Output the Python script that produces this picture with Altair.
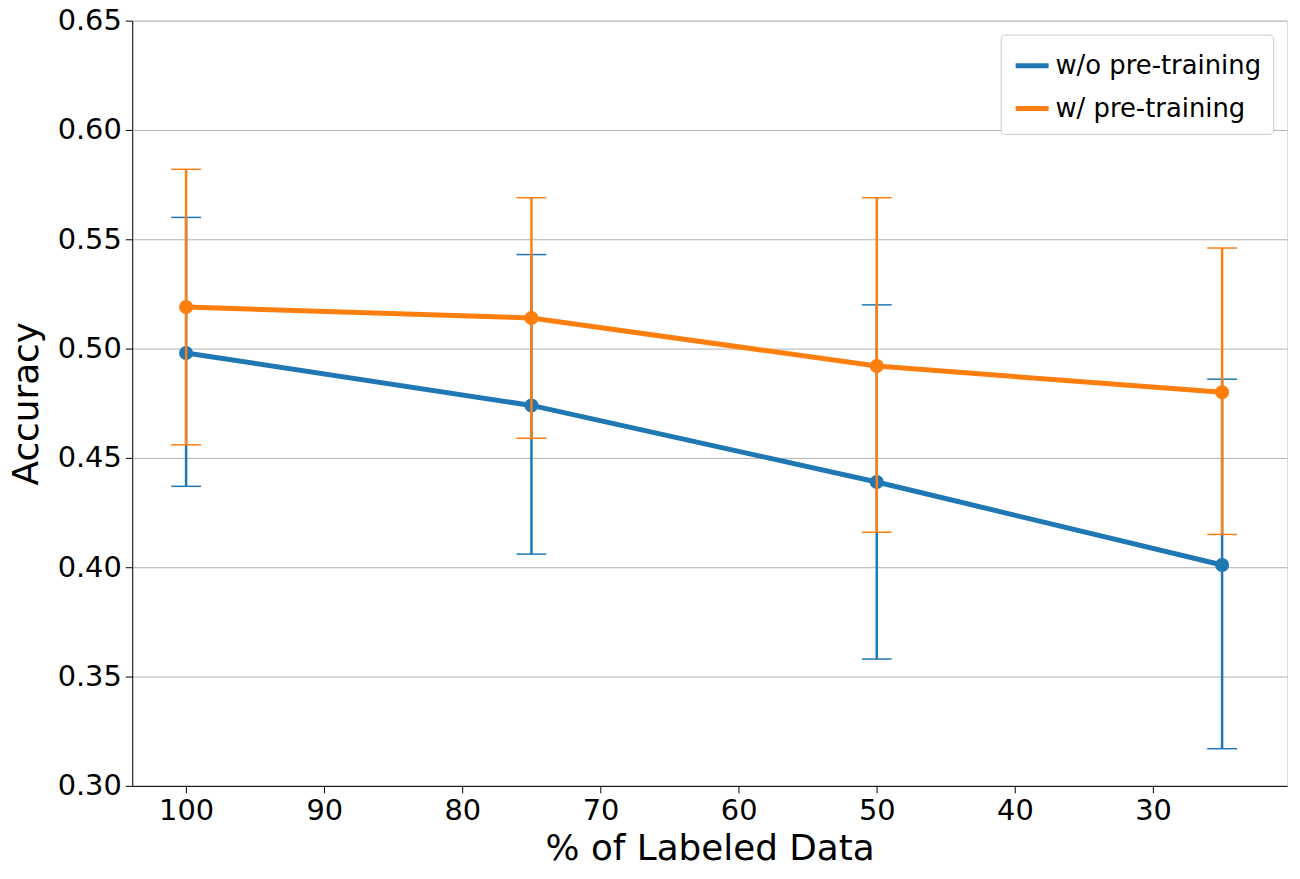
import altair as alt
import pandas as pd

pct = [100, 75, 50, 25]
series = ["w/o pre-training", "w/ pre-training"]
acc_wo = [0.498, 0.474, 0.439, 0.401]
lo_wo = [0.437, 0.406, 0.358, 0.317]
hi_wo = [0.560, 0.543, 0.520, 0.486]
acc_w = [0.519, 0.514, 0.492, 0.480]
lo_w = [0.456, 0.459, 0.416, 0.415]
hi_w = [0.582, 0.569, 0.569, 0.546]
colors = ["#1f77b4", "#ff7f0e"]

rows = []
for name, acc, lo, hi in [(series[0], acc_wo, lo_wo, hi_wo), (series[1], acc_w, lo_w, hi_w)]:
    for p, a, l, h in zip(pct, acc, lo, hi):
        rows.append({"pct": p, "series": name, "acc": a, "lo": l, "hi": h})
df = pd.DataFrame(rows)

x = alt.X("pct:Q", scale=alt.Scale(domain=[103.9, 20.3], nice=False, zero=False),
          axis=alt.Axis(values=[100, 90, 80, 70, 60, 50, 40, 30], title="% of Labeled Data",
                        grid=False, labelFontSize=29, titleFontSize=36, titlePadding=6,
                        tickSize=7, labelPadding=4, domainColor="black", tickColor="black",
                        labelColor="black", titleColor="black", titleFontWeight="normal"))
y = alt.Y("acc:Q", scale=alt.Scale(domain=[0.30, 0.65], nice=False, zero=False),
          axis=alt.Axis(values=[0.30, 0.35, 0.40, 0.45, 0.50, 0.55, 0.60, 0.65], format=".2f",
                        title="Accuracy", grid=True, gridColor="#b0b0b0", labelFontSize=29,
                        titleFontSize=36, titlePadding=12, tickSize=7, labelPadding=4,
                        domainColor="black", tickColor="black", labelColor="black",
                        titleColor="black", titleFontWeight="normal"))
color = alt.Color("series:N", scale=alt.Scale(domain=series, range=colors),
                  legend=alt.Legend(title=None, orient="top-right", symbolType="stroke",
                                    symbolStrokeWidth=5, symbolSize=1100, labelFontSize=26,
                                    labelLimit=500, symbolOpacity=1,
                                    padding=12, strokeColor="#cccccc", fillColor="white",
                                    cornerRadius=4, rowPadding=10, labelColor="black",
                                    offset=14))

layers = []
for name in series:
    d = alt.Chart(df).transform_filter(alt.datum.series == name)
    layers.append(d.mark_rule(strokeWidth=2.5).encode(x=x, y="lo:Q", y2="hi:Q", color=color))
    layers.append(d.mark_tick(thickness=1.5, size=30, orient="horizontal", opacity=1).encode(x=x, y="lo:Q", color=color))
    layers.append(d.mark_tick(thickness=1.5, size=30, orient="horizontal", opacity=1).encode(x=x, y="hi:Q", color=color))
    layers.append(d.mark_line(strokeWidth=5).encode(x=x, y=y, color=color))
    layers.append(d.mark_circle(size=200, opacity=1).encode(x=x, y=y, color=color))

chart = alt.layer(*layers).properties(
    width=1162, height=770,
    autosize=alt.AutoSizeParams(type="none"),
    padding={"left": 125, "top": 10, "right": 5, "bottom": 90},
).configure_view(stroke="black", strokeWidth=1.2).configure(font="DejaVu Sans")

chart.save("out.html", embed_options={"renderer": "svg", "actions": False})
